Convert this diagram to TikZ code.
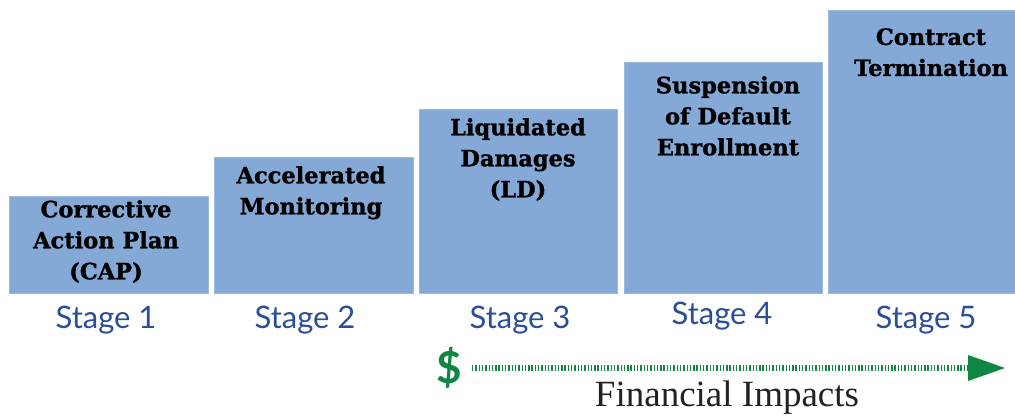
\documentclass[tikz,border=0pt]{standalone}
\usepackage{fontspec}
\setmainfont{DejaVu Serif}
\newfontfamily\boxfont{DejaVu Serif}[BoldFeatures={FakeBold=1.2}]
\newfontfamily\stagefont{Lato}
\newfontfamily\finfont{Liberation Serif}
\usetikzlibrary{arrows.meta}
\definecolor{boxblue}{HTML}{85A9D6}
\definecolor{stageblue}{HTML}{2B4E98}
\definecolor{fingreen}{HTML}{0F8743}
\definecolor{fingray}{HTML}{222222}
\begin{document}
\begin{tikzpicture}[x=1pt,y=-1pt,
  stagebox/.style={fill=boxblue,draw=boxblue!80!white,line width=0.6pt},
  boxtext/.style={align=center,font=\boxfont\bfseries\fontsize{22.5}{31}\selectfont,anchor=north,inner sep=0pt,text=black},
  stagelabel/.style={font=\stagefont\fontsize{31}{31}\selectfont,text=stageblue,inner sep=0pt}]
\useasboundingbox (0,0) rectangle (1015,417);
\fill[white] (0,0) rectangle (1015,417);
\path[stagebox] (9,196) rectangle (208,293);
\path[stagebox] (214,157) rectangle (413,293);
\path[stagebox] (419,109) rectangle (617,293);
\path[stagebox] (624,62) rectangle (822,293);
\path[stagebox] (828,10) rectangle (1015,293);
\node[boxtext] (t1) at (106,200) {Corrective\\Action Plan\\(CAP)};
\node[boxtext] (t2) at (311,166) {Accelerated\\Monitoring};
\node[boxtext] (t3) at (518,118) {Liquidated\\Damages\\(LD)};
\node[boxtext] (t4) at (728,76) {Suspension\\of Default\\Enrollment};
\node[boxtext] (t5) at (931,28) {Contract\\Termination};
\node[stagelabel] (s1) at (106,320) {Stage 1};
\node[stagelabel] (s2) at (305,320) {Stage 2};
\node[stagelabel] (s3) at (520,320) {Stage 3};
\node[stagelabel] (s4) at (722,316) {Stage 4};
\node[stagelabel] (s5) at (926,320) {Stage 5};
\node[font=\stagefont\bfseries\fontsize{44}{44}\selectfont,text=fingreen,inner sep=0pt] (dollar) at (449,368) {\$};
\coordinate (arrowend) at (1005,368);
\coordinate (arrowstart) at (472,368);
\draw[fingreen,line width=6pt,dash pattern=on 1.4pt off 1.9pt] (arrowstart) -- (968,368);
\fill[fingreen] (968,355) -- (arrowend) -- (968,381) -- cycle;
\node[font=\finfont\fontsize{37}{37}\selectfont,text=fingray,inner sep=0pt] (fin) at (727,398) {Financial Impacts};
\end{tikzpicture}
\end{document}
